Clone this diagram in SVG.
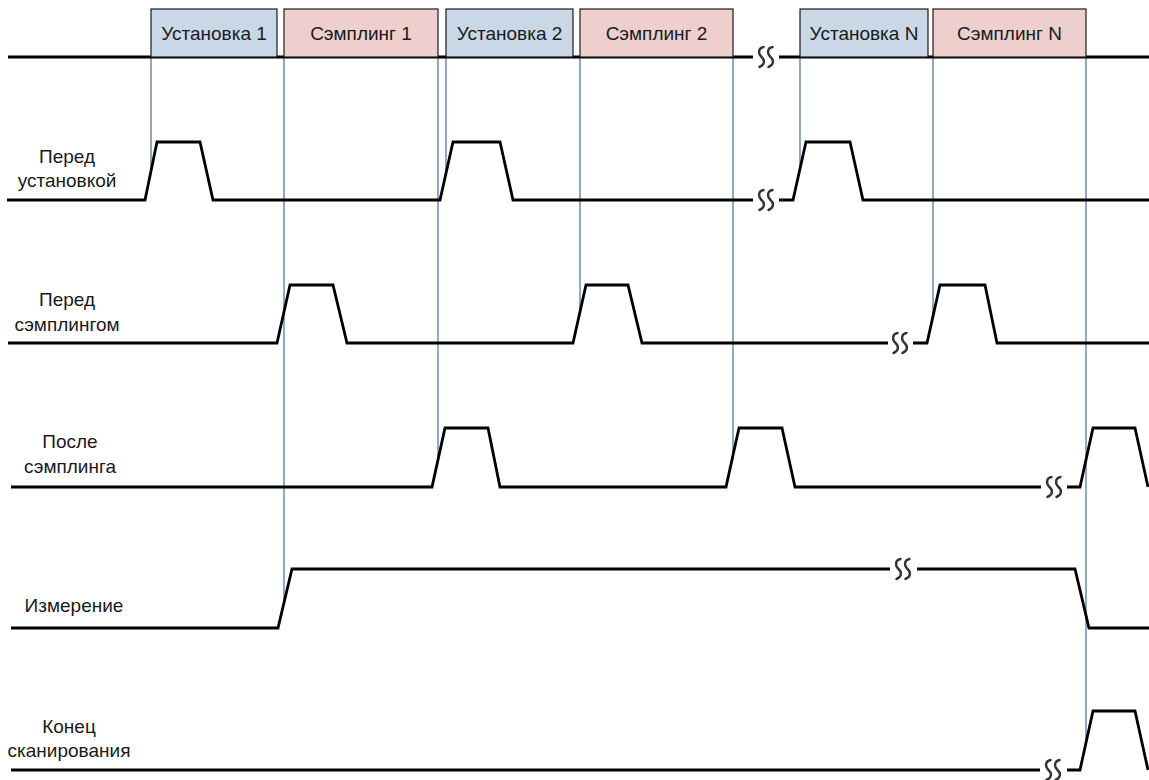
<svg xmlns="http://www.w3.org/2000/svg" width="1149" height="780" viewBox="0 0 1149 780">
<defs>
<style>
.bg{fill:#ffffff}
.box-u{fill:#c9d7e7;stroke:#1a1a1a;stroke-width:1.2}
.box-s{fill:#eecfcd;stroke:#1a1a1a;stroke-width:1.2}
.sig{fill:none;stroke:#000;stroke-width:2.8;stroke-linejoin:miter}
.conn{stroke:#4a6e94;stroke-width:1.2;fill:none}
.brk{fill:none;stroke:#333;stroke-width:2.4;stroke-linecap:round}
text{font-family:"Liberation Sans",Arial,sans-serif;font-size:19px;fill:#1a1a1a;text-anchor:middle}
</style>
<path id="sq" d="M-2.5,-10 C-8,-9 -8,-3 -4.5,0 C-1,3 -1,8 -6.5,10 M6.5,-10 C1,-9 1,-3 4.5,0 C8,3 8,8 2.5,10"/>
</defs>
<rect class="bg" x="0" y="0" width="1149" height="780"/>

<g id="connectors">
<line class="conn" x1="151" y1="57" x2="151" y2="171"/>
<line class="conn" x1="284" y1="57" x2="284" y2="603"/>
<line class="conn" x1="438" y1="57" x2="438" y2="460"/>
<line class="conn" x1="446" y1="57" x2="446" y2="173"/>
<line class="conn" x1="580" y1="57" x2="580" y2="312"/>
<line class="conn" x1="733" y1="57" x2="733" y2="455"/>
<line class="conn" x1="800" y1="57" x2="800" y2="169"/>
<line class="conn" x1="933" y1="57" x2="933" y2="316"/>
<line class="conn" x1="1086" y1="57" x2="1086" y2="743"/>
</g>

<g id="timeline">
<path class="sig" d="M8,57 H753 M779,57 H1149"/>
<use href="#sq" class="brk" x="766" y="57"/>
</g>

<g id="box-setup1"><rect class="box-u" x="151" y="9" width="126" height="48"/><text x="214" y="40">Установка 1</text></g>
<g id="box-sampling1"><rect class="box-s" x="284" y="9" width="154" height="48"/><text x="361" y="40">Сэмплинг 1</text></g>
<g id="box-setup2"><rect class="box-u" x="446" y="9" width="127" height="48"/><text x="509.5" y="40">Установка 2</text></g>
<g id="box-sampling2"><rect class="box-s" x="580" y="9" width="153" height="48"/><text x="656.5" y="40">Сэмплинг 2</text></g>
<g id="box-setupN"><rect class="box-u" x="800" y="9" width="128" height="48"/><text x="864" y="40">Установка N</text></g>
<g id="box-samplingN"><rect class="box-s" x="933" y="9" width="153" height="48"/><text x="1009.5" y="40">Сэмплинг N</text></g>

<g id="row-pre-setup">
<text x="67" y="163">Перед</text>
<text x="67" y="187">установкой</text>
<path class="sig" d="M7,200 H145 L157,142 H200 L213,200 H440 L453,142 H500 L513,200 H753 M779,200 H793 L806,142 H850 L863,200 H1149"/>
<use href="#sq" class="brk" x="766" y="200"/>
</g>

<g id="row-pre-sampling">
<text x="67" y="306">Перед</text>
<text x="67" y="331">сэмплингом</text>
<path class="sig" d="M8,343 H277 L290,285 H333 L347,343 H573 L586,285 H628 L642,343 H888 M913,343 H927 L940,285 H985 L997,343 H1149"/>
<use href="#sq" class="brk" x="900" y="343"/>
</g>

<g id="row-post-sampling">
<text x="70" y="448">После</text>
<text x="70" y="473">сэмплинга</text>
<path class="sig" d="M11,487 H432 L445,428 H488 L500,487 H726 L739,428 H782 L795,487 H1041 M1067,487 H1080 L1093,428 H1135 L1148,487"/>
<use href="#sq" class="brk" x="1054" y="487"/>
</g>

<g id="row-measure">
<text x="74" y="612">Измерение</text>
<path class="sig" d="M11,628 H278 L292,569 H890 M917,569 H1075 L1089,628 H1149"/>
<use href="#sq" class="brk" x="903" y="569"/>
</g>

<g id="row-end-scan">
<text x="69" y="733">Конец</text>
<text x="69" y="757">сканирования</text>
<path class="sig" d="M11,770 H1040 M1067,770 H1080 L1093,711 H1135 L1148,770"/>
<use href="#sq" class="brk" x="1053" y="770"/>
</g>
</svg>
